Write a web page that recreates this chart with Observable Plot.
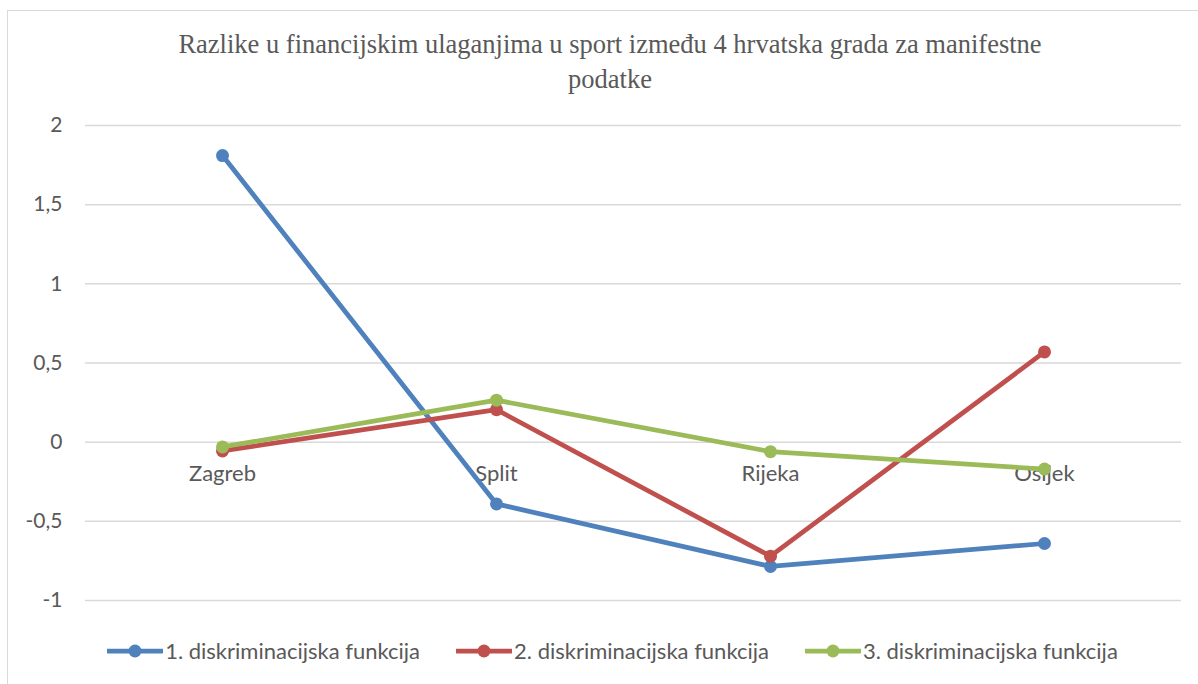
<!DOCTYPE html>
<html>
<head>
<meta charset="utf-8">
<script src="https://cdn.jsdelivr.net/npm/d3@7"></script>
<script src="https://cdn.jsdelivr.net/npm/@observablehq/plot@0.6"></script>
<style>
  html, body { margin: 0; padding: 0; background: #fff; }
  #wrap { position: relative; width: 1198px; height: 684px; overflow: hidden; }
  #frame { position: absolute; left: 7px; top: 10px; width: 1300px; height: 800px;
           border-left: 1.5px solid #d9d9d9; border-top: 1.5px solid #d9d9d9; box-sizing: border-box; }
  #title { position: absolute; left: 0; top: 27px; width: 1220px; text-align: center;
           font-family: "Liberation Serif", "Times New Roman", serif; font-size: 26.5px;
           line-height: 35px; color: #595959; }
  #chart { position: absolute; left: 0; top: 100px; }
  #legend { position: absolute; left: 0; top: 637px; width: 1225px; display: flex; justify-content: center;
            gap: 36px; font-family: Lato, "Noto Sans", sans-serif; font-size: 22px; color: #595959; }
  .item { display: flex; align-items: center; gap: 2px; }
</style>
</head>
<body>
<div id="wrap">
  <div id="frame"></div>
  <div id="title">Razlike u financijskim ulaganjima u sport između 4 hrvatska grada za manifestne<br>podatke</div>
  <div id="chart"></div>
  <div id="legend"></div>
</div>
<script>
const cities = ["Zagreb", "Split", "Rijeka", "Osijek"];
const seriesNames = ["1. diskriminacijska funkcija", "2. diskriminacijska funkcija", "3. diskriminacijska funkcija"];
const seriesColors = ["#4f81bd", "#c0504d", "#9bbb59"];
const f1 = [1.81, -0.39, -0.785, -0.64];
const f2 = [-0.055, 0.205, -0.72, 0.57];
const f3 = [-0.03, 0.265, -0.06, -0.17];
const yTicks = [-1, -0.5, 0, 0.5, 1, 1.5, 2];

const allSeries = [f1, f2, f3];
const rows = [];
allSeries.forEach((vals, si) => vals.forEach((v, i) => rows.push({city: cities[i], value: v, series: seriesNames[si]})));

const lineMarks = [];
seriesNames.forEach((name, si) => {
  const d = rows.filter(r => r.series === name);
  lineMarks.push(Plot.line(d, {x: "city", y: "value", stroke: seriesColors[si], strokeWidth: 4.75, strokeLinejoin: "round"}));
  lineMarks.push(Plot.dot(d, {x: "city", y: "value", fill: seriesColors[si], r: 6.5}));
});

const chart = Plot.plot({
  width: 1198,
  height: 530,
  marginLeft: 85,
  marginRight: 17,
  marginTop: 25,
  marginBottom: 30,
  style: {fontFamily: "Lato, 'Noto Sans', sans-serif", fontSize: "21px", color: "#595959", background: "transparent"},
  x: {type: "point", domain: cities, padding: 0.5, axis: null},
  y: {domain: [-1, 2], ticks: yTicks, label: null},
  marks: [
    Plot.ruleY(yTicks, {stroke: "#d9d9d9", strokeWidth: 1.5}),
    Plot.axisY(yTicks, {tickSize: 0, tickPadding: 23, label: null, tickFormat: d => String(d).replace(".", ","), fill: "#595959", fontSize: 21}),
    Plot.text(cities, {x: d => d, y: () => 0, dy: 32, fill: "#595959", fontSize: 22}),
    ...lineMarks
  ]
});
document.getElementById("chart").appendChild(chart);

const legend = document.getElementById("legend");
seriesNames.forEach((name, si) => {
  const item = document.createElement("div");
  item.className = "item";
  const sw = `<svg width="56" height="14"><line x1="1" y1="7" x2="55" y2="7" stroke="${seriesColors[si]}" stroke-width="4.75" stroke-linecap="round"/><circle cx="28" cy="7" r="6.5" fill="${seriesColors[si]}"/></svg>`;
  item.innerHTML = sw + `<span>${name}</span>`;
  legend.appendChild(item);
});
</script>
</body>
</html>
